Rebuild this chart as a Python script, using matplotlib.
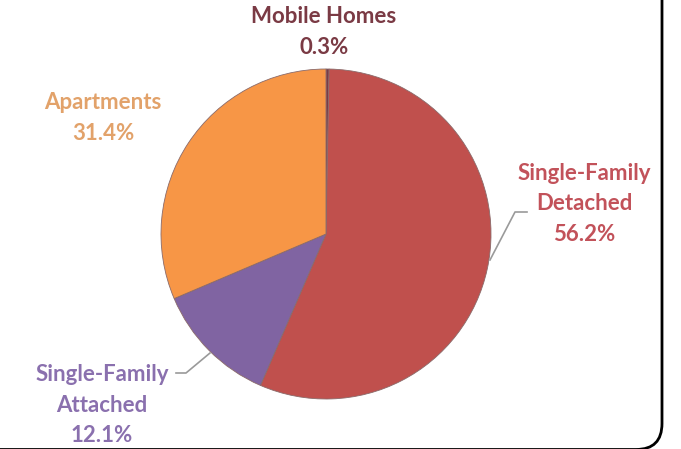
import matplotlib
matplotlib.use("Agg")
import matplotlib.pyplot as plt
from matplotlib.patches import FancyBboxPatch

# Data
categories = ["Mobile Homes", "Single-Family\nDetached", "Single-Family\nAttached", "Apartments"]
shares = [0.3, 56.2, 12.1, 31.4]
slice_colors = ["#7B3B45", "#C0504D", "#8064A2", "#F79646"]
label_colors = ["#7A3A44", "#C2525A", "#8A70AE", "#E2A26A"]

W, H = 681, 449
fig = plt.figure(figsize=(W / 100, H / 100), dpi=100)
ax = fig.add_axes([0, 0, 1, 1])
ax.set_xlim(0, W)
ax.set_ylim(0, H)
ax.set_aspect("equal")
ax.axis("off")

def py(y):
    return H - y

cx, cy, r = 326, 234, 165
wedges, _ = ax.pie(shares, colors=slice_colors, startangle=90, counterclock=False,
                   center=(cx, py(cy)), radius=r,
                   wedgeprops=dict(edgecolor="#8a6a6a", linewidth=0.6))
ax.set_xlim(0, W)
ax.set_ylim(0, H)

font = dict(family=["Lato", "DejaVu Sans"], fontweight="bold", fontsize=16)

# Labels
label_pos = [(324, 32), (584, 204), (102, 405), (103, 118)]
for cat, val, col, (lx, ly) in zip(categories, shares, label_colors, label_pos):
    ax.text(lx, py(ly), f"{cat}\n{val:.1f}%", color=col, ha="center", va="center",
            linespacing=1.55, **font)

# Leader lines
ax.plot([527, 515, 490], [py(212), py(212), py(260)], color="#9a9a9a", lw=1.2)
ax.plot([176, 186, 210], [py(373), py(373), py(353)], color="#9a9a9a", lw=1.2)

# Rounded border (only right/bottom-right visible)
box = FancyBboxPatch((-60, py(449.5)), 662 + 60, 520, boxstyle="round,pad=0,rounding_size=26",
                     fill=False, edgecolor="black", linewidth=2.0, clip_on=False)
ax.add_patch(box)

fig.savefig("out.png", dpi=100)
